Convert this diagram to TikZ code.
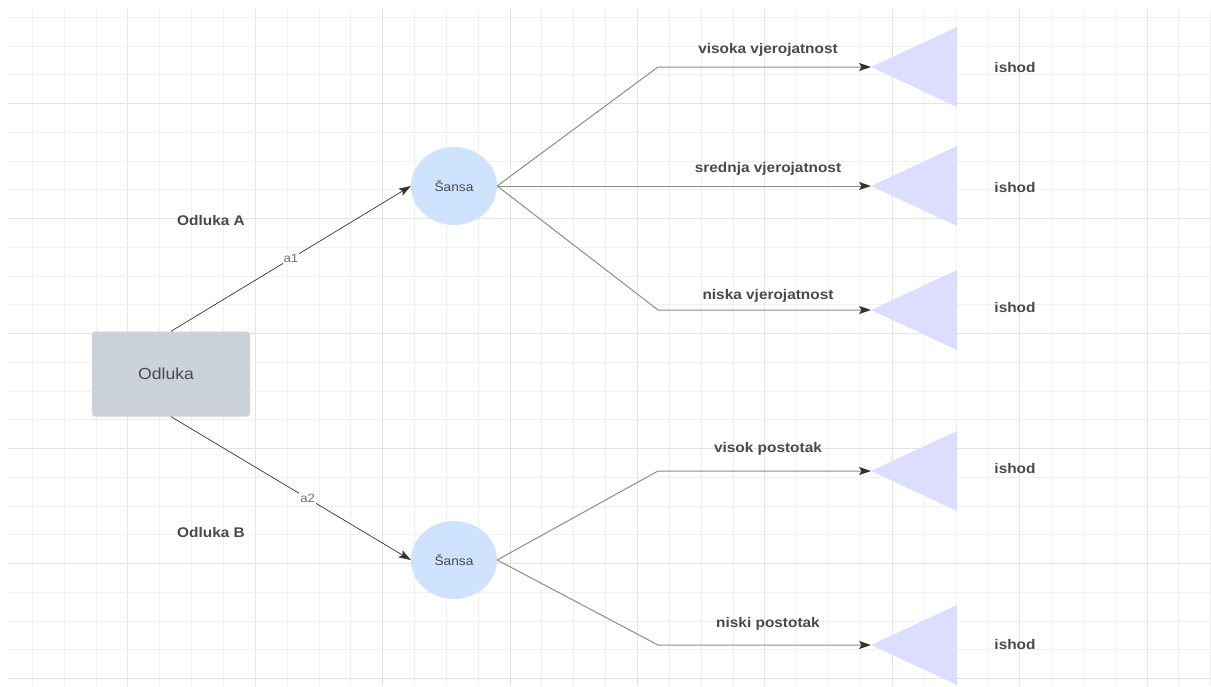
\documentclass[tikz,border=0pt]{standalone}
\usepackage{fontspec}
\setmainfont{Liberation Sans}[FakeStretch=1.1]
\usepackage{tikz}
\usetikzlibrary{arrows.meta,shapes.geometric,backgrounds}
\definecolor{gridminor}{HTML}{F1F1F1}
\definecolor{gridmajor}{HTML}{E4E4E4}
\definecolor{boxgray}{HTML}{CBD2DB}
\definecolor{chanceblue}{HTML}{CFE3FF}
\definecolor{endlilac}{HTML}{DDDDFF}
\definecolor{textgray}{HTML}{4A4A4A}
\newcommand{\linecolor}{black!45}
\newcommand{\gridw}{1pt}
\newcommand{\tipx}{871}
\newcommand{\basex}{957}

\begin{document}
\begin{tikzpicture}[x=1pt,y=-1pt,
  decision/.style={fill=boxgray, rounded corners=3pt, minimum width=158pt, minimum height=85pt, text=textgray, font=\fontsize{16}{18}\selectfont},
  chance/.style={ellipse, fill=chanceblue, minimum width=86pt, minimum height=78pt, inner sep=0pt, text=textgray, font=\fontsize{12.5}{14}\selectfont},
  lbl/.style={text=textgray, inner sep=0pt, font=\bfseries\fontsize{14}{16}\selectfont},
  edgelbl/.style={fill=white, inner sep=1pt, text=black!55, font=\fontsize{12}{14}\selectfont},
  choice/.style={draw=black!80, line width=0.7pt, -{Stealth[length=12pt,width=8pt,inset=2.5pt]}},
  branch/.style={draw=\linecolor, line width=1pt, -{Stealth[length=12pt,width=8pt,inset=2.5pt,color=black!80]}},
  outcome/.style={fill=endlilac}]
\useasboundingbox (0,0) rectangle (1211,686);
\fill[white] (0,0) rectangle (1211,686);
%grid
\foreach \k in {1,...,38} {
  \pgfmathsetmacro{\gx}{round(31.85*\k)+0.5}
  \pgfmathtruncatemacro{\m}{mod(\k,4)}
  \ifnum\m=0
    \draw[gridmajor, line width=\gridw] (\gx,9) -- (\gx,686);
  \else
    \draw[gridminor, line width=\gridw] (\gx,9) -- (\gx,686);
  \fi
}
\foreach \k in {0,...,23} {
  \pgfmathsetmacro{\gy}{round(16.75+28.75*\k)+0.5}
  \pgfmathtruncatemacro{\m}{mod(\k,4)}
  \ifnum\m=3
    \draw[gridmajor, line width=\gridw] (8,\gy) -- (1211,\gy);
  \else
    \draw[gridminor, line width=\gridw] (8,\gy) -- (1211,\gy);
  \fi
}
%nodes
\node[decision] (odluka) at (171,374) {\hspace*{-10pt}Odluka};
\node[chance] (s1) at (454,186) {Šansa};
\node[chance] (s2) at (454,560) {Šansa};
\coordinate (t1) at (\tipx,67);
\coordinate (t2) at (\tipx,186);
\coordinate (t3) at (\tipx,310);
\coordinate (t4) at (\tipx,471);
\coordinate (t5) at (\tipx,645);
%outcomes
\fill[outcome] (t1) -- (\basex,27) -- (\basex,107) -- cycle;
\fill[outcome] (t2) -- (\basex,146) -- (\basex,226) -- cycle;
\fill[outcome] (t3) -- (\basex,270) -- (\basex,350) -- cycle;
\fill[outcome] (t4) -- (\basex,431) -- (\basex,511) -- cycle;
\fill[outcome] (t5) -- (\basex,605) -- (\basex,685) -- cycle;
\node[lbl] (i1) at (1015,67) {ishod};
\node[lbl] (i2) at (1015,187) {ishod};
\node[lbl] (i3) at (1015,307) {ishod};
\node[lbl] (i4) at (1015,468) {ishod};
\node[lbl] (i5) at (1015,644) {ishod};
%decisions
\draw[choice] (odluka.north) -- node[edgelbl, pos=0.5] {a1} (s1.west);
\draw[choice] (odluka.south) -- node[edgelbl, pos=0.57] {a2} (s2.west);
\node[lbl] (da) at (211,220) {Odluka A};
\node[lbl] (db) at (211,532) {Odluka B};
%branches
\draw[branch] (s1.east) -- (658,67) -- (t1);
\draw[branch] (s1.east) -- (t2);
\draw[branch] (s1.east) -- (658,310) -- (t3);
\draw[branch] (s2.east) -- (658,471) -- (t4);
\draw[branch] (s2.east) -- (658,645) -- (t5);
\node[lbl] (b1) at (768,50) {visoka vjerojatnost};
\node[lbl] (b2) at (768,169) {srednja vjerojatnost};
\node[lbl] (b3) at (768,296) {niska vjerojatnost};
\node[lbl] (b4) at (768,449) {visok postotak};
\node[lbl] (b5) at (768,624) {niski postotak};
\end{tikzpicture}
\end{document}
